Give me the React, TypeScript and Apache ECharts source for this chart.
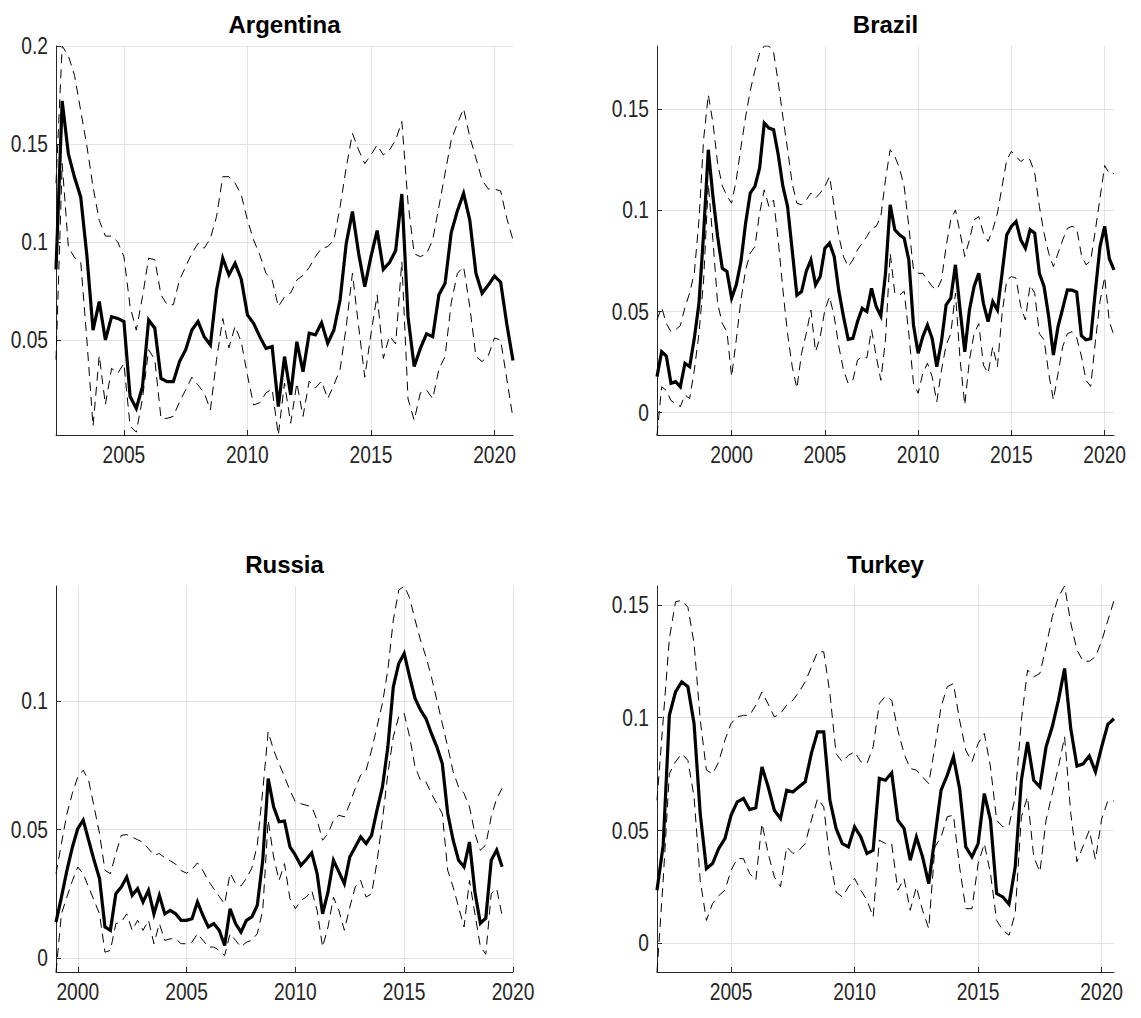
import React, { useEffect, useRef } from "react";
import * as echarts from "echarts";

// ---------- DATA (quarterly) ----------
const countries = ["Argentina", "Brazil", "Russia", "Turkey"];
const startYears = [2002.25, 1996.0, 1999.0, 2002.0];
const xMins = [2002.25, 1996.0, 1999.0, 2002.0];
const xMaxs = [2020.75, 2020.5, 2020.0, 2020.5];
const yMins = [0.0015, -0.011, -0.0054, -0.0129];
const yMaxs = [0.2, 0.181, 0.1446, 0.1584];
const xTickArg = [2005, 2010, 2015, 2020];
const xTickBra = [2000, 2005, 2010, 2015, 2020];
const xTickRus = [2000, 2005, 2010, 2015, 2020];
const xTickTur = [2005, 2010, 2015, 2020];
const yTickArg = [0.05, 0.1, 0.15, 0.2];
const yTickBra = [0, 0.05, 0.1, 0.15];
const yTickRus = [0, 0.05, 0.1];
const yTickTur = [0, 0.05, 0.1, 0.15];

const argMid = [
  0.086, 0.172, 0.145, 0.133, 0.123, 0.093, 0.055, 0.0696, 0.05, 0.0619,
  0.061, 0.0594, 0.0211, 0.0151, 0.0262, 0.0602, 0.056, 0.0304, 0.0287, 0.0287,
  0.039, 0.045, 0.0551, 0.0594, 0.0517, 0.0474, 0.0755, 0.0917, 0.0832, 0.0891,
  0.081, 0.0628, 0.0585, 0.0517, 0.0457, 0.0466, 0.016, 0.0415, 0.022, 0.0491,
  0.0338, 0.0534, 0.0526, 0.0588, 0.0483, 0.0551, 0.0704, 0.0993, 0.1155, 0.0942,
  0.0772, 0.0925, 0.1058, 0.086, 0.0895, 0.0956, 0.1245, 0.0619, 0.0364, 0.0457,
  0.0531, 0.0517, 0.073, 0.0789, 0.1048, 0.116, 0.1248, 0.1112, 0.084, 0.0738,
  0.078, 0.0826, 0.0795, 0.058, 0.0395,
];
const argUp = [
  0.13, 0.2, 0.195, 0.185, 0.167, 0.149, 0.128, 0.111, 0.103, 0.103,
  0.1, 0.0925, 0.067, 0.055, 0.072, 0.0917, 0.091, 0.073, 0.068, 0.068,
  0.0806, 0.0874, 0.0942, 0.0993, 0.0968, 0.1019, 0.113, 0.1333, 0.1333, 0.13,
  0.124, 0.1112, 0.101, 0.0934, 0.084, 0.0806, 0.067, 0.072, 0.074, 0.0806,
  0.083, 0.087, 0.0925, 0.0968, 0.0976, 0.101, 0.118, 0.138, 0.1554, 0.147,
  0.14, 0.1444, 0.1495, 0.1444, 0.147, 0.152, 0.1614, 0.12, 0.094, 0.0925,
  0.094, 0.101, 0.118, 0.135, 0.152, 0.1605, 0.168, 0.1537, 0.1427, 0.1316,
  0.127, 0.127, 0.126, 0.112, 0.101,
];
const argLo = [
  0.04, 0.14, 0.0976, 0.092, 0.09, 0.05, 0.006, 0.042, 0.017, 0.0355,
  0.033, 0.038, 0.006, 0.003, 0.02, 0.045, 0.04, 0.01, 0.01, 0.011,
  0.0185, 0.0245, 0.031, 0.027, 0.023, 0.0143, 0.04, 0.061, 0.046, 0.057,
  0.049, 0.032, 0.0168, 0.018, 0.023, 0.025, 0.0015, 0.028, 0.0075, 0.028,
  0.011, 0.029, 0.0255, 0.029, 0.02, 0.027, 0.035, 0.057, 0.084, 0.057,
  0.031, 0.053, 0.073, 0.0406, 0.052, 0.048, 0.09, 0.02, 0.009, 0.023,
  0.0245, 0.02, 0.035, 0.0415, 0.069, 0.084, 0.0874, 0.067, 0.0415, 0.039,
  0.042, 0.051, 0.05, 0.03, 0.01,
];

const braMid = [
  0.0178, 0.0301, 0.028, 0.0145, 0.0153, 0.0128, 0.0244, 0.0227, 0.0367, 0.054,
  0.0886, 0.1298, 0.1067, 0.087, 0.0713, 0.0697, 0.0565, 0.0631, 0.0746, 0.0935,
  0.1084, 0.1117, 0.1207, 0.143, 0.1405, 0.1397, 0.1273, 0.1117, 0.1018, 0.08,
  0.058, 0.0598, 0.0697, 0.0754, 0.0631, 0.0672, 0.0812, 0.0837, 0.0771, 0.06,
  0.0474, 0.0362, 0.0367, 0.045, 0.0515, 0.0499, 0.0614, 0.0524, 0.0478, 0.0688,
  0.1026, 0.0903, 0.0878, 0.0861, 0.0754, 0.0433, 0.0293, 0.0376, 0.0433, 0.0367,
  0.0227, 0.0351, 0.0532, 0.0565, 0.073, 0.0507, 0.0301, 0.0507, 0.0623, 0.0688,
  0.054, 0.045, 0.0548, 0.0507, 0.0688, 0.0878, 0.0919, 0.0944, 0.0853, 0.0812,
  0.0903, 0.0886, 0.0688, 0.0623, 0.0474, 0.0285, 0.0425, 0.0515, 0.0606, 0.0605,
  0.0595, 0.038, 0.036, 0.0365, 0.06, 0.082, 0.092, 0.076, 0.0705,
];
const braUp = [
  0.046, 0.052, 0.044, 0.04, 0.041, 0.043, 0.052, 0.059, 0.069, 0.095,
  0.135, 0.157, 0.143, 0.123, 0.112, 0.107, 0.1034, 0.115, 0.131, 0.146,
  0.159, 0.169, 0.1775, 0.181, 0.181, 0.178, 0.163, 0.146, 0.13, 0.113,
  0.1034, 0.1026, 0.105, 0.1084, 0.106, 0.1084, 0.1117, 0.1166, 0.1018, 0.087,
  0.077, 0.0721, 0.0754, 0.0804, 0.0837, 0.087, 0.091, 0.0919, 0.0968, 0.115,
  0.1298, 0.1265, 0.1207, 0.1117, 0.0919, 0.0705, 0.0688, 0.0688, 0.0655, 0.0623,
  0.0606, 0.0655, 0.082, 0.0952, 0.1001, 0.0886, 0.0771, 0.0853, 0.0952, 0.0968,
  0.0886, 0.0845, 0.0903, 0.0985, 0.1117, 0.1248, 0.129, 0.1265, 0.124, 0.1257,
  0.1248, 0.1183, 0.1018, 0.0886, 0.0787, 0.0721, 0.0787, 0.0853, 0.091, 0.092,
  0.091, 0.078, 0.073, 0.075, 0.09, 0.106, 0.122, 0.118, 0.118,
];
const braLo = [
  -0.011, 0.0128, 0.011, 0.006, 0.0046, 0.003, 0.0087, 0.007, 0.021, 0.039,
  0.0655, 0.113, 0.085, 0.054, 0.044, 0.04, 0.0178, 0.036, 0.0557, 0.0705,
  0.0787, 0.082, 0.0985, 0.11, 0.1018, 0.105, 0.085, 0.0606, 0.039, 0.0227,
  0.012, 0.0293, 0.039, 0.0507, 0.0301, 0.0375, 0.0507, 0.0573, 0.0474, 0.0326,
  0.021, 0.0145, 0.016, 0.026, 0.0277, 0.027, 0.041, 0.028, 0.016, 0.036,
  0.0787, 0.059, 0.058, 0.06, 0.039, 0.0145, 0.0096, 0.0194, 0.0244, 0.0178,
  0.0054, 0.021, 0.0334, 0.039, 0.059, 0.026, 0.0038, 0.026, 0.039, 0.044,
  0.0235, 0.0194, 0.0326, 0.0227, 0.049, 0.0655, 0.0672, 0.0664, 0.0524, 0.0458,
  0.063, 0.059, 0.039, 0.036, 0.0194, 0.0063, 0.0194, 0.0326, 0.039, 0.04,
  0.037, 0.028, 0.016, 0.013, 0.035, 0.055, 0.067, 0.045, 0.038,
];

const rusMid = [
  0.014, 0.0237, 0.034, 0.043, 0.0503, 0.0536, 0.0458, 0.038, 0.0309, 0.0121,
  0.0108, 0.025, 0.0276, 0.0315, 0.0244, 0.027, 0.0218, 0.0263, 0.0172, 0.0244,
  0.0172, 0.0185, 0.0172, 0.0147, 0.0147, 0.0153, 0.0218, 0.0166, 0.0121, 0.0134,
  0.0108, 0.0049, 0.0192, 0.0134, 0.0101, 0.0147, 0.016, 0.0205, 0.038, 0.0698,
  0.0588, 0.053, 0.0533, 0.0432, 0.04, 0.036, 0.0383, 0.0409, 0.0328, 0.0172,
  0.0257, 0.038, 0.0335, 0.0289, 0.0393, 0.0432, 0.0471, 0.0445, 0.0477, 0.0575,
  0.0665, 0.0821, 0.1054, 0.1145, 0.1184, 0.1093, 0.1009, 0.0964, 0.0931, 0.0873,
  0.0821, 0.0756, 0.0562, 0.0458, 0.038, 0.0354, 0.0451, 0.0257, 0.0135, 0.0155,
  0.038, 0.042, 0.0355,
];
const rusUp = [
  0.0328, 0.0445, 0.056, 0.064, 0.0704, 0.073, 0.069, 0.0588, 0.0484, 0.0341,
  0.0328, 0.0406, 0.0477, 0.048, 0.047, 0.046, 0.045, 0.0425, 0.04, 0.0406,
  0.039, 0.0378, 0.0365, 0.034, 0.033, 0.0345, 0.037, 0.034, 0.03, 0.027,
  0.024, 0.021, 0.033, 0.029, 0.028, 0.031, 0.035, 0.044, 0.065, 0.088,
  0.0808, 0.0756, 0.0704, 0.0652, 0.0607, 0.06, 0.0594, 0.0588, 0.0536, 0.0458,
  0.0484, 0.0536, 0.0555, 0.0549, 0.06, 0.0659, 0.0711, 0.073, 0.0808, 0.0899,
  0.099, 0.112, 0.1314, 0.143, 0.1446, 0.14, 0.1314, 0.1236, 0.1171, 0.1093,
  0.1003, 0.0912, 0.0821, 0.0724, 0.0665, 0.064, 0.0588, 0.0484, 0.0419, 0.044,
  0.055, 0.062, 0.066,
];
const rusLo = [
  -0.0054, 0.0172, 0.0237, 0.03, 0.0354, 0.0328, 0.0276, 0.0224, 0.0172, 0.0023,
  0.003, 0.0134, 0.014, 0.0172, 0.0108, 0.0147, 0.0108, 0.0147, 0.0056, 0.0134,
  0.0069, 0.0075, 0.0075, 0.0056, 0.0056, 0.0062, 0.0095, 0.0069, 0.0043, 0.0043,
  0.003, 0.001, 0.0095, 0.0069, 0.0043, 0.0062, 0.0069, 0.0095, 0.0185, 0.0536,
  0.0393, 0.0302, 0.0367, 0.0231, 0.0192, 0.0224, 0.0237, 0.0263, 0.0185, 0.0043,
  0.0121, 0.0237, 0.0185, 0.0108, 0.0198, 0.0276, 0.0302, 0.0237, 0.025, 0.0373,
  0.0536, 0.0717, 0.086, 0.0938, 0.0951, 0.086, 0.0743, 0.0691, 0.0685, 0.064,
  0.06, 0.0562, 0.0341, 0.0276, 0.0198, 0.0121, 0.0302, 0.0172, 0.0045, 0.0015,
  0.025, 0.027, 0.0165,
];

const turMid = [
  0.0234, 0.0434, 0.101, 0.1114, 0.1159, 0.1137, 0.0974, 0.0574, 0.033, 0.0352,
  0.0419, 0.0463, 0.0567, 0.0626, 0.0641, 0.0592, 0.06, 0.0781, 0.0693, 0.0589,
  0.0552, 0.0678, 0.067, 0.0693, 0.0715, 0.0841, 0.0937, 0.0937, 0.0633, 0.0508,
  0.0441, 0.0426, 0.0515, 0.047, 0.0397, 0.0411, 0.073, 0.0722, 0.0755, 0.0545,
  0.0508, 0.0367, 0.047, 0.0382, 0.0263, 0.047, 0.0678, 0.0744, 0.0826, 0.0685,
  0.0426, 0.0382, 0.0441, 0.0663, 0.0545, 0.0219, 0.0204, 0.0172, 0.0337, 0.0722,
  0.0892, 0.0722, 0.0693, 0.087, 0.0959, 0.1077, 0.1218, 0.095, 0.0785, 0.0795,
  0.083, 0.076, 0.087, 0.097, 0.0995,
];
const turUp = [
  0.0633, 0.099, 0.135, 0.1514, 0.152, 0.149, 0.133, 0.099, 0.0767, 0.075,
  0.0804, 0.09, 0.0974, 0.1003, 0.101, 0.101, 0.1055, 0.1114, 0.106, 0.1003,
  0.1018, 0.1055, 0.1077, 0.1114, 0.1159, 0.1225, 0.1292, 0.1292, 0.1107, 0.084,
  0.0804, 0.0833, 0.0848, 0.0804, 0.0796, 0.087, 0.1063, 0.1095, 0.1077, 0.0944,
  0.084, 0.0774, 0.0767, 0.0737, 0.0707, 0.087, 0.1048, 0.1137, 0.1151, 0.0989,
  0.0855, 0.0804, 0.0885, 0.093, 0.0781, 0.0545, 0.0515, 0.0522, 0.0648, 0.0989,
  0.1211, 0.1181, 0.1196, 0.1314, 0.1447, 0.1536, 0.1584, 0.142, 0.13, 0.125,
  0.125, 0.127, 0.134, 0.143, 0.152,
];
const turLo = [
  -0.0129, 0.0278, 0.0752, 0.0804, 0.084, 0.081, 0.0648, 0.0278, 0.01, 0.0175,
  0.021, 0.0234, 0.0323, 0.0374, 0.0374, 0.0308, 0.0278, 0.053, 0.0397, 0.0293,
  0.0249, 0.0426, 0.0397, 0.0411, 0.0441, 0.0545, 0.064, 0.0604, 0.0367, 0.0226,
  0.0204, 0.0249, 0.0286, 0.0234, 0.019, 0.0115, 0.0456, 0.0441, 0.044, 0.0234,
  0.0286, 0.0145, 0.0249, 0.0145, 0.0064, 0.0426, 0.047, 0.056, 0.0567, 0.0337,
  0.0152, 0.0152, 0.0352, 0.0441, 0.0308, 0.01, 0.0056, 0.0034, 0.013, 0.056,
  0.0648, 0.0382, 0.0315, 0.0545, 0.0663, 0.0781, 0.0915, 0.0574, 0.036, 0.043,
  0.05, 0.037, 0.055, 0.063, 0.063,
];

const mids = [argMid, braMid, rusMid, turMid];
const ups = [argUp, braUp, rusUp, turUp];
const los = [argLo, braLo, rusLo, turLo];
const xTicks = [xTickArg, xTickBra, xTickRus, xTickTur];
const yTicks = [yTickArg, yTickBra, yTickRus, yTickTur];

// ---------- LAYOUT ----------
const W = 1141;
const H = 1018;
const grids = [
  { left: 56, top: 46, width: 457, height: 389 },
  { left: 657, top: 46, width: 457, height: 389 },
  { left: 56, top: 586, width: 457, height: 386 },
  { left: 657, top: 586, width: 457, height: 386 },
];
const FONT = "'Liberation Sans', Arial, Helvetica, sans-serif";
const AXIS_COLOR = "#262626";
const GRID_COLOR = "#e3e3e3";
const LABEL_SIZE = 24;
const LABEL_SQUEEZE = 0.8; // tick labels are a condensed face in the reference

const toPairs = (start: number, arr: number[]) =>
  arr.map((v, i) => [start + i * 0.25, v]);

const fmt = (v: number) => String(parseFloat(Number(v).toFixed(4)));

export default function App() {
  const ref = useRef<HTMLDivElement>(null);

  useEffect(() => {
    if (!ref.current) return;
    const chart = echarts.init(ref.current, undefined, { renderer: "svg" });

    const xAxis = countries.map((_, k) => ({
      type: "value",
      gridIndex: k,
      min: xMins[k],
      max: xMaxs[k],
      axisLine: { show: true, onZero: false, lineStyle: { color: AXIS_COLOR, width: 1 } },
      axisTick: {
        show: true,
        inside: true,
        length: 5,
        customValues: xTicks[k],
        lineStyle: { color: AXIS_COLOR, width: 1 },
      },
      axisLabel: { show: false, customValues: xTicks[k] },
      splitLine: { show: true, lineStyle: { color: GRID_COLOR, width: 1 } },
    }));

    const yAxis = countries.map((_, k) => ({
      type: "value",
      gridIndex: k,
      min: yMins[k],
      max: yMaxs[k],
      axisLine: { show: true, onZero: false, lineStyle: { color: AXIS_COLOR, width: 1 } },
      axisTick: {
        show: true,
        inside: true,
        length: 5,
        customValues: yTicks[k],
        lineStyle: { color: AXIS_COLOR, width: 1 },
      },
      axisLabel: { show: false, customValues: yTicks[k] },
      splitLine: { show: true, lineStyle: { color: GRID_COLOR, width: 1 } },
    }));

    const series: any[] = [];
    countries.forEach((name, k) => {
      const dashed = { color: "#000", width: 1, type: [9, 6] };
      series.push({
        name: name + " upper",
        type: "line",
        xAxisIndex: k,
        yAxisIndex: k,
        data: toPairs(startYears[k], ups[k]),
        showSymbol: false,
        symbol: "none",
        lineStyle: dashed,
        z: 2,
        silent: true,
      });
      series.push({
        name: name + " lower",
        type: "line",
        xAxisIndex: k,
        yAxisIndex: k,
        data: toPairs(startYears[k], los[k]),
        showSymbol: false,
        symbol: "none",
        lineStyle: dashed,
        z: 2,
        silent: true,
      });
      series.push({
        name: name,
        type: "line",
        xAxisIndex: k,
        yAxisIndex: k,
        data: toPairs(startYears[k], mids[k]),
        showSymbol: false,
        symbol: "none",
        lineStyle: { color: "#000", width: 3.2, join: "miter" },
        z: 3,
        silent: true,
      });
    });

    const title = countries.map((name, k) => ({
      text: name,
      left: grids[k].left + grids[k].width / 2,
      top: grids[k].top - 34,
      textAlign: "center",
      padding: 0,
      textStyle: {
        fontFamily: FONT,
        fontSize: 24,
        fontWeight: "bold",
        color: "#000",
      },
    }));

    chart.setOption({
      animation: false,
      backgroundColor: "#ffffff",
      title,
      grid: grids.map((g) => ({ ...g, containLabel: false })),
      xAxis,
      yAxis,
      series,
    });

    // Tick labels: positioned through the chart's own axis scales, drawn condensed.
    const labels: any[] = [];
    countries.forEach((_, k) => {
      const g = grids[k];
      xTicks[k].forEach((v) => {
        const px = chart.convertToPixel({ xAxisIndex: k } as any, v) as number;
        labels.push({
          type: "text",
          x: px,
          y: g.top + g.height + 8,
          scaleX: LABEL_SQUEEZE,
          silent: true,
          style: {
            text: fmt(v),
            fill: AXIS_COLOR,
            fontSize: LABEL_SIZE,
            fontFamily: FONT,
            font: `${LABEL_SIZE}px ${FONT}`,
            textAlign: "center",
            align: "center",
            textVerticalAlign: "top",
            verticalAlign: "top",
          },
        });
      });
      yTicks[k].forEach((v) => {
        const py = chart.convertToPixel({ yAxisIndex: k } as any, v) as number;
        labels.push({
          type: "text",
          x: g.left - 8,
          y: py,
          scaleX: LABEL_SQUEEZE,
          silent: true,
          style: {
            text: fmt(v),
            fill: AXIS_COLOR,
            fontSize: LABEL_SIZE,
            fontFamily: FONT,
            font: `${LABEL_SIZE}px ${FONT}`,
            textAlign: "right",
            align: "right",
            textVerticalAlign: "middle",
            verticalAlign: "middle",
          },
        });
      });
    });
    chart.setOption({ graphic: { elements: labels } });

    return () => chart.dispose();
  }, []);

  return (
    <div
      ref={ref}
      style={{ position: "fixed", left: 0, top: 0, width: W, height: H, background: "#fff" }}
    />
  );
}
